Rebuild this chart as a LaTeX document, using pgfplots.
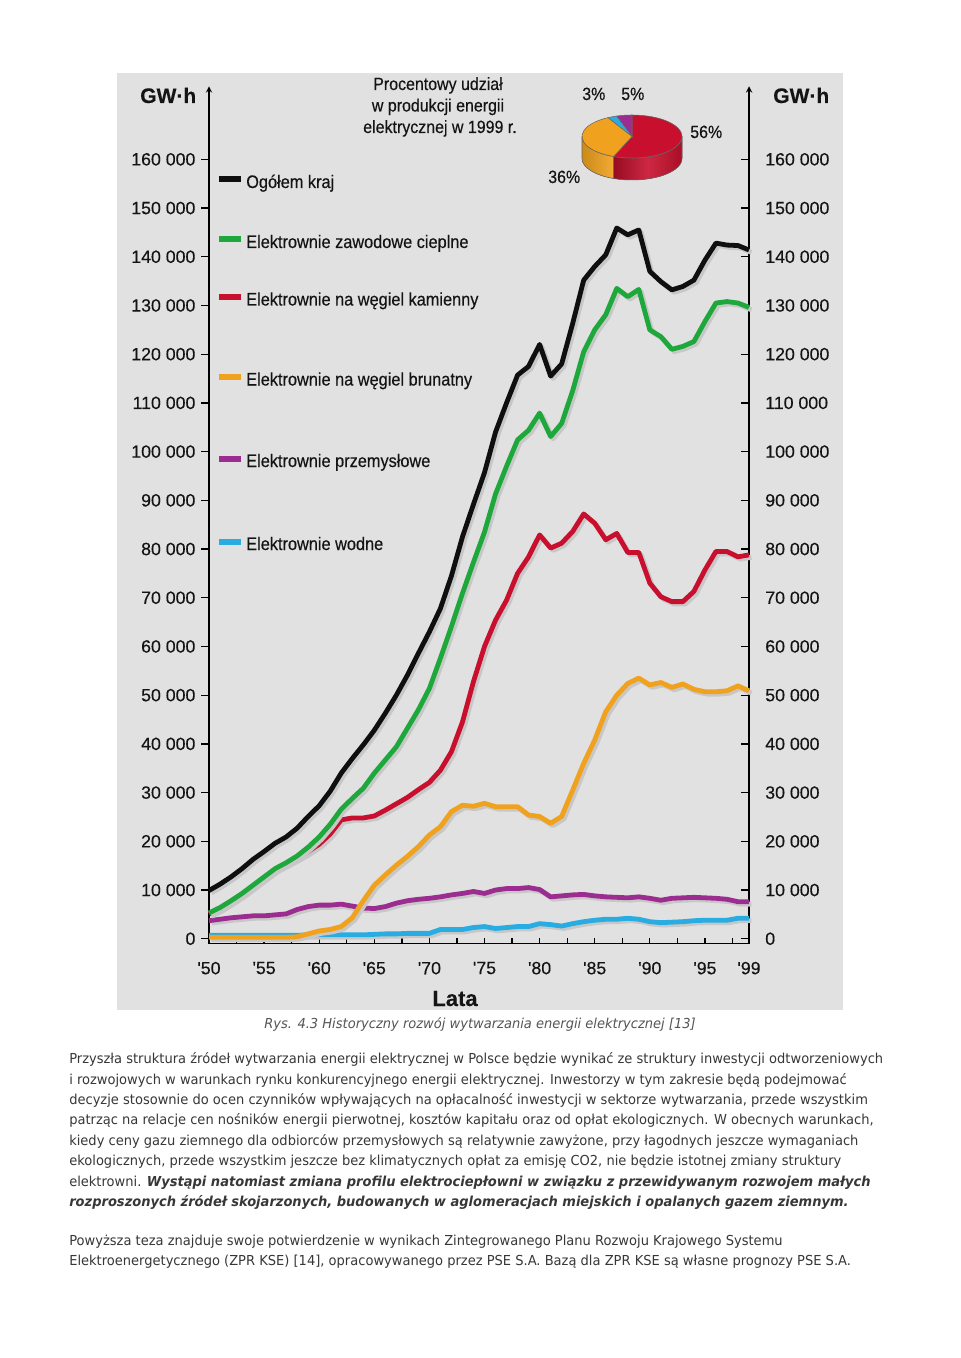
\documentclass[border=0pt]{standalone}
\usepackage{fontspec}
\usepackage{pgfplots}
\pgfplotsset{compat=1.18}
\usepackage{pgfplotstable}
\usetikzlibrary{arrows.meta}
\setmainfont{DejaVu Sans}
\newfontfamily\bodyfont[FakeStretch=0.95]{DejaVu Sans}
\newfontfamily\chartfont[FakeStretch=0.9,FakeBold=0.35]{Liberation Sans}
\newfontfamily\numfont[FakeBold=0.3]{Liberation Sans}
\newfontfamily\boldfont{Liberation Sans Bold}

\definecolor{panel}{RGB}{225,225,225}
\definecolor{cblack}{RGB}{15,15,15}
\definecolor{cgreen}{RGB}{30,168,60}
\definecolor{cred}{RGB}{200,16,46}
\definecolor{corange}{RGB}{240,162,30}
\definecolor{cpurple}{RGB}{155,45,145}
\definecolor{cblue}{RGB}{40,172,226}
\definecolor{bodytext}{RGB}{55,55,55}
\definecolor{captext}{RGB}{85,85,85}
\definecolor{charttext}{RGB}{20,20,20}

\pgfplotstableread{
year total zaw kam bru prz wod
1950 9900 5300 5100 300 3700 700
1951 11200 6400 6200 300 4000 700
1952 12700 7800 7600 300 4300 700
1953 14400 9300 9100 300 4500 700
1954 16300 11000 10800 300 4700 700
1955 17900 12700 12500 300 4700 700
1956 19600 14400 14200 300 4900 700
1957 20900 15600 15400 300 5100 700
1958 22700 17000 16600 400 6000 700
1959 25100 18800 17900 1000 6600 800
1960 27300 20900 19400 1600 6900 800
1961 30300 23500 21500 1900 6900 800
1962 34000 26600 24400 2500 7100 800
1963 37000 28800 24800 4300 6700 800
1964 39800 30900 24800 7800 6300 800
1965 42800 34000 25200 11000 6200 900
1966 46300 36700 26400 13100 6600 1000
1967 50000 39400 27700 15100 7300 1000
1968 54100 43200 29000 16900 7800 1100
1969 58600 47000 30600 18900 8100 1100
1970 63000 51400 32100 21300 8300 1100
1971 67800 57600 34600 23000 8600 1900
1972 74500 64100 38400 26100 9000 1900
1973 82500 70900 44500 27400 9300 1900
1974 89200 77300 52800 27200 9700 2300
1975 95700 83500 60000 27800 9300 2500
1976 104000 91300 65400 27100 10000 2100
1977 110000 97000 69500 27100 10300 2300
1978 115700 102400 75000 27100 10300 2500
1979 117500 104400 78400 25400 10500 2500
1980 122000 107900 82900 25100 10100 3100
1981 115500 103100 80200 23700 8600 2900
1982 118000 105800 81200 25100 8800 2600
1983 126300 112500 83600 30500 9000 3100
1984 135200 120500 87200 36000 9100 3500
1985 138000 125000 85300 40800 8800 3800
1986 140400 128100 81900 46600 8600 4000
1987 145900 133500 83200 50000 8500 4000
1988 144500 131800 79300 52400 8400 4200
1989 145500 133300 79300 53500 8600 4000
1990 137000 125000 73000 52100 8300 3500
1991 134900 123600 70200 52600 7900 3300
1992 133200 121000 69200 51600 8300 3400
1993 133900 121600 69200 52300 8400 3500
1994 135200 122600 71300 51200 8500 3700
1995 139300 126700 75700 50700 8400 3800
1996 142800 130500 79500 50700 8300 3800
1997 142400 130800 79500 50900 8100 3800
1998 142300 130500 78400 51900 7600 4200
1999 141400 129600 78800 50900 7600 4200
}\data

\pgfplotsset{
  base/.style={
    at={(156.75pt,-707.7pt)}, anchor=south west,
    scale only axis, width=405pt, height=643pt,
    xmin=1950, xmax=1999, ymin=-1000, ymax=175000,
    scaled y ticks=false, scaled x ticks=false,
    clip=false,
    tick style={black, line width=1pt},
    major tick length=6pt,
  },
  yt/.style={
    ytick={0,10000,20000,30000,40000,50000,60000,70000,80000,90000,100000,110000,120000,130000,140000,150000,160000},
    yticklabels={0,10 000,20 000,30 000,40 000,50 000,60 000,70 000,80 000,90 000,100 000,110 000,120 000,130 000,140 000,150 000,160 000},
    y axis line style={-{Latex[length=11pt,width=7.5pt]}, line width=1.1pt, black},
  },
  shadowed/.style={line width=3.6pt, line join=round,
    preaction={draw=black!22, transform canvas={xshift=1.8pt,yshift=-1.8pt}}},
}

\begin{document}
\begin{tikzpicture}
\fill[white] (0,0) rectangle (720pt,-1018.5pt);
\path[use as bounding box] (0,0) rectangle (720pt,-1018.5pt);

\begin{scope}[x=0.75pt,y=-0.75pt]
\fill[panel] (117,73) rectangle (843,1010);
\end{scope}

% left y axis
\begin{axis}[base, yt, axis x line=none, axis y line=left, tick align=outside,
  yticklabel style={font=\numfont\fontsize{13.3pt}{15pt}\selectfont, text=charttext, anchor=east, inner sep=0pt, xshift=-4pt}]
\end{axis}
% right y axis
\begin{axis}[base, yt, axis x line=none, axis y line=right, tick align=inside,
  yticklabel style={font=\numfont\fontsize{13.3pt}{15pt}\selectfont, text=charttext, anchor=west, inner sep=0pt, xshift=12pt}]
\end{axis}
% x axis and data
\begin{axis}[base, axis y line=none, axis x line=bottom, tick align=inside,
  x axis line style={-, line width=1.1pt, black},
  major tick length=4.5pt, minor tick length=4.5pt,
  xtick={1950,1955,1960,1965,1970,1975,1980,1985,1990,1995,1999},
  xticklabels={\textquotesingle50,\textquotesingle55,\textquotesingle60,\textquotesingle65,\textquotesingle70,\textquotesingle75,\textquotesingle80,\textquotesingle85,\textquotesingle90,\textquotesingle95,\textquotesingle99},
  minor xtick={1952.5,1957.5,1962.5,1967.5,1972.5,1977.5,1982.5,1987.5,1992.5,1997.5},
  xticklabel style={font=\numfont\fontsize{13.3pt}{15pt}\selectfont, text=charttext, anchor=north, inner sep=0pt, yshift=-13.5pt},
]
\addplot[cblue, shadowed] table[x=year,y=wod]{\data};
\addplot[cpurple, shadowed] table[x=year,y=prz]{\data};
\addplot[corange, shadowed] table[x=year,y=bru]{\data};
\addplot[cred, shadowed] table[x=year,y=kam]{\data};
\addplot[cgreen, shadowed] table[x=year,y=zaw]{\data};
\addplot[cblack, shadowed] table[x=year,y=total]{\data};
\end{axis}

\begin{scope}[x=0.75pt,y=-0.75pt]
% unit labels
\node[anchor=base west, inner sep=0pt, text=charttext, font=\numfont\bfseries\fontsize{15.75pt}{17pt}\selectfont] at (140,103) {GW·h};
\node[anchor=base west, inner sep=0pt, text=charttext, font=\numfont\bfseries\fontsize{15.75pt}{17pt}\selectfont] at (773,103) {GW·h};
\node[anchor=base, inner sep=0pt, text=charttext, font=\numfont\bfseries\fontsize{16.5pt}{18pt}\selectfont] at (455,1006) {Lata};
% title
\begin{scope}[every node/.style={anchor=base, inner sep=0pt, text=charttext, font=\chartfont\fontsize{13.3pt}{15pt}\selectfont}]
\node at (438,90) {Procentowy udział};
\node at (438,111.5) {w produkcji energii};
\node at (440,133) {elektrycznej w 1999 r.};
\end{scope}
% pie labels
\begin{scope}[every node/.style={anchor=base west, inner sep=0pt, text=charttext, font=\chartfont\fontsize{13.3pt}{15pt}\selectfont}]
\node at (582,100) {3\%};
\node at (621,100) {5\%};
\node at (690,138) {56\%};
\node at (548,183) {36\%};
\end{scope}
% legend
\begin{scope}[every node/.style={anchor=base west, inner sep=0pt, text=charttext, font=\chartfont\fontsize{13.6pt}{15pt}\selectfont}]
\draw[cblack, line width=4.5pt] (219,179.5) -- (241,179.5);
\node at (246,188) {Ogółem kraj};
\draw[cgreen, line width=4.5pt] (219,239.5) -- (241,239.5);
\node at (246,248) {Elektrownie zawodowe cieplne};
\draw[cred, line width=4.5pt] (219,297) -- (241,297);
\node at (246,305.5) {Elektrownie na węgiel kamienny};
\draw[corange, line width=4.5pt] (219,377) -- (241,377);
\node at (246,385.5) {Elektrownie na węgiel brunatny};
\draw[cpurple, line width=4.5pt] (219,458.5) -- (241,458.5);
\node at (246,467) {Elektrownie przemysłowe};
\draw[cblue, line width=4.5pt] (219,541.5) -- (241,541.5);
\node at (246,550) {Elektrownie wodne};
\end{scope}

% caption and body text
\node[anchor=base, inner sep=0pt, text=captext, font=\bodyfont\itshape\fontsize{10.3pt}{15pt}\selectfont] at (480,1028) {Rys. 4.3 Historyczny rozwój wytwarzania energii elektrycznej [13]};
\begin{scope}[every node/.style={anchor=base west, inner sep=0pt, text=bodytext, font=\bodyfont\fontsize{10.3pt}{15pt}\selectfont}]
\node at (69,1063) {Przyszła struktura źródeł wytwarzania energii elektrycznej w Polsce będzie wynikać ze struktury inwestycji odtworzeniowych};
\node at (69,1084) {i rozwojowych w warunkach rynku konkurencyjnego energii elektrycznej. Inwestorzy w tym zakresie będą podejmować};
\node at (69,1104) {decyzje stosownie do ocen czynników wpływających na opłacalność inwestycji w sektorze wytwarzania, przede wszystkim};
\node at (69,1124) {patrząc na relacje cen nośników energii pierwotnej, kosztów kapitału oraz od opłat ekologicznych. W obecnych warunkach,};
\node at (69,1145) {kiedy ceny gazu ziemnego dla odbiorców przemysłowych są relatywnie zawyżone, przy łagodnych jeszcze wymaganiach};
\node at (69,1165) {ekologicznych, przede wszystkim jeszcze bez klimatycznych opłat za emisję CO2, nie będzie istotnej zmiany struktury};
\node at (69,1186) {elektrowni. {\bfseries\itshape Wystąpi natomiast zmiana profilu elektrociepłowni w związku z przewidywanym rozwojem małych}};
\node at (69,1206) {\bfseries\itshape rozproszonych źródeł skojarzonych, budowanych w aglomeracjach miejskich i opalanych gazem ziemnym.};
\node at (69,1245) {Powyższa teza znajduje swoje potwierdzenie w wynikach Zintegrowanego Planu Rozwoju Krajowego Systemu};
\node at (69,1265) {Elektroenergetycznego (ZPR KSE) [14], opracowywanego przez PSE S.A. Bazą dla ZPR KSE są własne prognozy PSE S.A.};
\end{scope}
\end{scope}

% pie chart (centre at px (632,136.5))
\begin{scope}[shift={(474pt,-102.375pt)}, x=0.75pt, y=0.75pt, line width=0.4pt]
\fill[left color=cred!75!black, right color=cred!85!black, middle color=cred!90!white, draw=black!60]
  (248.4:50 and 21.5) arc[start angle=248.4, end angle=360, x radius=50, y radius=21.5]
  -- ++(0,-22) arc[start angle=360, end angle=248.4, x radius=50, y radius=21.5] -- cycle;
\fill[left color=corange!85!black, right color=corange!90!white, draw=black!60]
  (180:50 and 21.5) arc[start angle=180, end angle=248.4, x radius=50, y radius=21.5]
  -- ++(0,-22) arc[start angle=248.4, end angle=180, x radius=50, y radius=21.5] -- cycle;
\filldraw[fill=cred, draw=black!60] (0,0) -- (-111.6:50 and 21.5) arc[start angle=-111.6, end angle=90, x radius=50, y radius=21.5] -- cycle;
\filldraw[fill=cpurple, draw=black!60] (0,0) -- (90:50 and 21.5) arc[start angle=90, end angle=108, x radius=50, y radius=21.5] -- cycle;
\filldraw[fill=cblue, draw=black!60] (0,0) -- (108:50 and 21.5) arc[start angle=108, end angle=118.8, x radius=50, y radius=21.5] -- cycle;
\filldraw[fill=corange, draw=black!60] (0,0) -- (118.8:50 and 21.5) arc[start angle=118.8, end angle=248.4, x radius=50, y radius=21.5] -- cycle;
\end{scope}
\end{tikzpicture}
\end{document}
